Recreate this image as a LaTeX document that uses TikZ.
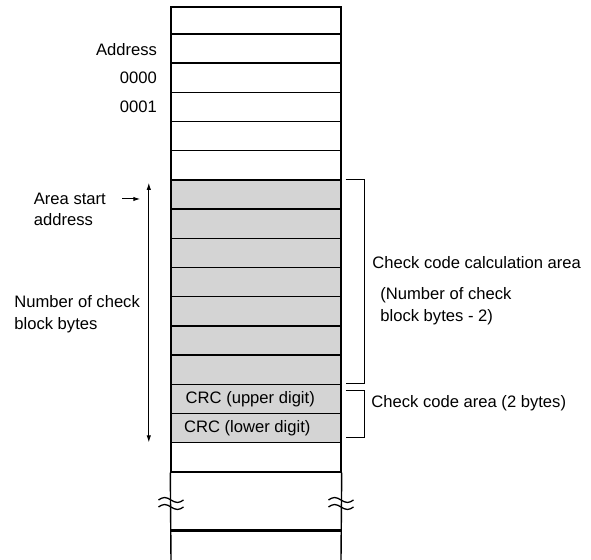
\documentclass[tikz,border=0pt]{standalone}
\usepackage{fontspec}
\setmainfont{Liberation Sans}
\usetikzlibrary{arrows.meta, positioning, calc}
\definecolor{cellgray}{gray}{0.83}
\newcommand{\lblfont}{\fontsize{8.3}{11}\selectfont}

\begin{document}
\begin{tikzpicture}[
    x=0.5pt, y=-0.5pt,
    cell/.style={draw, line width=0.7pt, minimum width=85pt,
                 minimum height=14.6pt, inner sep=0pt},
    lbl/.style={font=\lblfont, inner sep=0pt},
    thin line/.style={line width=0.5pt},
    >={Latex[length=3.5pt, width=2.2pt]}
  ]
  \useasboundingbox (0,0) rectangle (591,560);

  % memory column
  \node[cell, minimum height=13.5pt] (c0) at (256, 20.5) {};
  \foreach \i in {1,...,15} {
    \pgfmathsetmacro{\ypos}{48.6 + (\i-1)*29.2}
    \pgfmathsetmacro{\fillcol}{(\i > 5 && \i < 15) ? "cellgray" : "white"}
    \node[cell, fill=\fillcol] (c\i) at (256, \ypos) {};
  }

  % open end of the column
  \coordinate (botL) at (171, 560);
  \coordinate (botR) at (341, 560);
  \coordinate (cutL) at (171, 530.5);
  \coordinate (cutR) at (341, 530.5);
  \draw[line width=0.7pt] (c15.south west) -- (botL);
  \draw[line width=0.7pt] (c15.south east) -- (botR);
  \draw[line width=1.1pt] (cutL) -- (cutR);

  % break marks
  \foreach \side in {L, R} {
    \coordinate (wave\side) at ($(cut\side)+(0,-30.5)$);
    \foreach \dy in {0, 7} {
      \draw[line width=0.65pt] ($(wave\side)+(-12.5,\dy)$) sin ++(6,-2.5)
        cos ++(6.5,2.5) sin ++(6.5,2.5) cos ++(6,-2.5);
    }
  }

  % CRC bytes
  \node[lbl, anchor=west] (crcU) at ([xshift=7.5pt]c13.west) {CRC (upper digit)};
  \node[lbl, anchor=west] (crcL) at ([xshift=6.7pt]c14.west) {CRC (lower digit)};

  % address labels
  \node[lbl, anchor=east] (addr) at ([xshift=-6.5pt, yshift=-0.5pt]c1.west) {Address};
  \node[lbl, anchor=east] (a0) at ([xshift=-6.5pt]c2.west) {0000};
  \node[lbl, anchor=east] (a1) at ([xshift=-6.5pt]c3.west) {0001};

  \node[lbl, anchor=west] (astart) at (33.5, 199) {Area start};
  \node[lbl, anchor=west] (astaddr) at ([yshift=-10.5pt]astart.west) {address};
  \draw[thin line, ->] ([xshift=8pt]astart.east) -- ++(9pt,0);

  \node[lbl, anchor=west, align=left] (nbytes) at (14, 314)
    {Number of check\\block bytes};
  \draw[thin line, <->] ([xshift=-10.75pt, yshift=-1.75pt]c6.north west)
    -- ([xshift=-10.75pt, yshift=0.5pt]c14.south west);

  % brackets on the right
  \draw[thin line] ([xshift=2pt]c6.north east) -- ++(9.5pt,0)
    |- ([xshift=2pt, yshift=1pt]c12.south east);
  \draw[thin line] ([xshift=2pt, yshift=-3.5pt]c13.north east) -- ++(9.5pt,0)
    |- ([xshift=2pt, yshift=3pt]c14.south east);

  \node[lbl, anchor=west] (calc) at (372, 263) {Check code calculation area};
  \node[lbl, anchor=west, align=left] (calcn) at (380, 306)
    {(Number of check\\block bytes - 2)};
  \node[lbl, anchor=west] (crcarea) at (371, 403) {Check code area (2 bytes)};
\end{tikzpicture}
\end{document}
